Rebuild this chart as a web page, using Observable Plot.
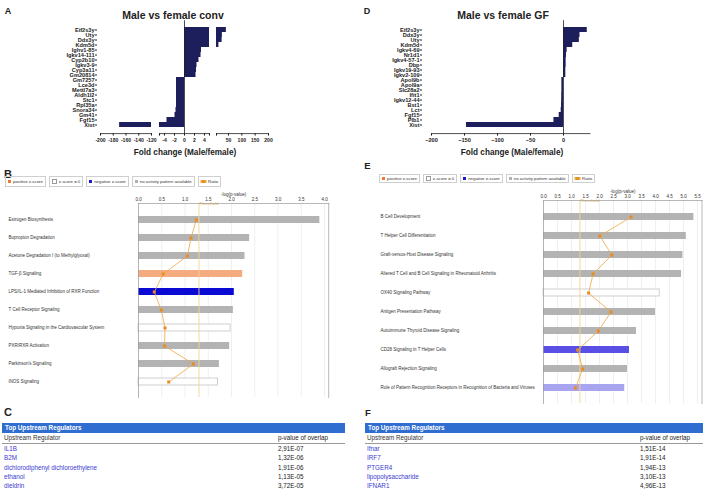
<!DOCTYPE html>
<html><head><meta charset="utf-8">
<script src="https://cdn.jsdelivr.net/npm/d3@7"></script>
<script src="https://cdn.jsdelivr.net/npm/@observablehq/plot@0.6"></script>
<style>
html,body{margin:0;padding:0;background:#fff;}
#root{position:relative;width:708px;height:492px;overflow:hidden;font-family:"Liberation Sans",Arial,sans-serif;color:#222;}
.lg{display:flex;gap:3px;position:absolute;}
.lg div{display:flex;align-items:center;border:0.8px solid #cfcfcf;padding:0 2px;font-size:4.3px;color:#333;white-space:nowrap;}
.sw{width:3px;height:3px;margin-right:2px;display:inline-block;}
.tbl{position:absolute;font-size:6.3px;}
.tbl .hd{background:#2f6dd0;color:#fff;font-weight:bold;height:10px;line-height:10px;padding-left:3px;}
.tbl .row{position:relative;height:9.3px;line-height:9.3px;}
.tbl .cap{height:10px;line-height:10px;border-bottom:0.8px solid #999;color:#333;position:relative;}
.tbl .v{position:absolute;top:0;color:#222;}
.tbl .n{color:#3b3bd0;padding-left:2px;}
</style></head><body><div id="root"></div>
<script>
// ---------- Data ----------
const convGenes = ["Eif2s3y","Uty","Ddx3y","Kdm5d","Ighv1-85","Igkv14-111","Cyp2b10","Igkv3-9","Cyp3a11","Gm20814","Gm7257","Lce3d","Mettl7a3","Aldh1l2","Stc1","Rpl35a","Snora34","Gm41","Fgf15","Xist"];
const convFC = [42,27,26,14,3.4,3.3,2.9,2.5,2.4,2.3,-1.6,-1.6,-1.6,-1.6,-1.6,-1.6,-1.7,-1.9,-3.5,-170];
const gfGenes = ["Eif2s3y","Ddx3y","Uty","Kdm5d","Igkv4-69","Nr1d1","Igkv4-57-1","Dbp","Igkv19-93","Igkv2-109","Apol9b","Apol9a","Slc28a2","Ifit1","Igkv12-44","Bst1","Lct","Fgf15","Plb1","Xist"];
const gfFC = [36,25,24,14,5.5,4.5,4,4,3.5,3.5,-2.5,-2.5,-2.5,-2.7,-2.8,-3,-3.5,-6.5,-14.5,-147];
const convTicksLeft = [-200,-180,-160,-140,-120];
const convTicksMid = [-5,-4,-2,0,2,4,5];
const convTicksRight = [5,50,100,150,200];
const gfTicks = [-200,-150,-100,-50,0];

const bPathways = ["Estrogen Biosynthesis","Bupropion Degradation","Acetone Degradation I (to Methylglyoxal)","TGF-β Signaling","LPS/IL-1 Mediated Inhibition of RXR Function","T Cell Receptor Signaling","Hypoxia Signaling in the Cardiovascular System","PXR/RXR Activation","Parkinson's Signaling","iNOS Signaling"];
const bLogP = [3.9,2.39,2.29,2.24,2.06,2.04,1.98,1.96,1.74,1.71];
const bZ = ["none","none","none","positive","negative","none","zero","none","none","zero"];
const bRatio = [1.24,1.13,1.05,0.53,0.34,0.49,0.57,0.56,1.18,0.65];
const bTicks = [0,0.5,1,1.5,2,2.5,3,3.5,4];

const ePathways = ["B Cell Development","T Helper Cell Differentiation","Graft-versus-Host Disease Signaling","Altered T Cell and B Cell Signaling in Rheumatoid Arthritis","OX40 Signaling Pathway","Antigen Presentation Pathway","Autoimmune Thyroid Disease Signaling","CD28 Signaling in T Helper Cells","Allograft Rejection Signaling","Role of Pattern Recognition Receptors in Recognition of Bacteria and Viruses"];
const eLogP = [5.37,5.1,4.98,4.93,4.15,4.0,3.32,3.07,3.0,2.9];
const eZ = ["none","none","none","none","zero","none","none","negative2","none","negative3"];
const eRatio = [3.13,2.01,2.44,1.77,1.61,2.41,1.96,1.22,1.40,1.14];
const eTicks = [0,0.5,1,1.5,2,2.5,3,3.5,4,4.5,5,5.5];

const threshold = 1.3;
const legendItems = ["positive z-score","z-score = 0","negative z-score","no activity pattern available","Ratio"];

const cRegulators = ["IL1B","B2M","dichlorodiphenyl dichloroethylene","ethanol","dieldrin"];
const cPvalues = ["2,91E-07","1,32E-06","1,91E-06","1,13E-05","3,72E-05"];
const fRegulators = ["Ifnar","IRF7","PTGER4","lipopolysaccharide","IFNAR1"];
const fPvalues = ["1,51E-14","1,91E-14","1,94E-13","3,10E-13","4,96E-13"];

// ---------- helpers ----------
const root = document.getElementById("root");
const FONT = "'Liberation Sans', Arial, sans-serif";
function add(el, left, top) {
  const d = document.createElement("div");
  d.style.cssText = `position:absolute;left:${left}px;top:${top}px;`;
  d.appendChild(el); root.appendChild(d); return d;
}
function txt(t, x, y, css, anchor = "center") {
  const d = document.createElement("div");
  d.textContent = t;
  const tx = anchor === "center" ? "-50%" : "0";
  d.style.cssText = `position:absolute;left:${x}px;top:${y}px;white-space:nowrap;line-height:1;transform:translate(${tx},-50%);` + css;
  root.appendChild(d); return d;
}
const navy = "#1c1f5c";
const baseStyle = {background: "transparent", overflow: "visible", fontFamily: FONT};

// ---------- Panel A ----------
const convData = convGenes.map((g, i) => ({gene: g, fc: convFC[i]}));
function convSegment({domain, ticks, hideEnds, width, marginLeft, marginRight, showY, zero}) {
  return Plot.plot({
    width, height: 148, marginTop: 20.2, marginBottom: 14.9, marginLeft, marginRight,
    style: baseStyle,
    x: {domain, clamp: true, label: null},
    y: {domain: convGenes, padding: 0.1, label: null},
    marks: [
      Plot.barX(convData, {y: "gene", x1: 0, x2: "fc", fill: navy}),
      zero ? Plot.ruleX([0], {stroke: "#222", strokeWidth: 0.8}) : null,
      Plot.frame({anchor: "bottom", stroke: "#222", strokeWidth: 0.8}),
      Plot.axisX({ticks, tickFormat: d => (hideEnds && hideEnds.includes(d)) ? "" : d, tickSize: 2.5, tickPadding: 2, fontSize: 5.1, fontWeight: "bold", label: null}),
      showY ? Plot.axisY({tickSize: 2, tickPadding: 1, dx: -3, fontSize: 5.6, fontWeight: "bold", label: null}) : Plot.axisY({ticks: [], label: null})
    ]
  });
}
add(convSegment({domain: [-200, -120], ticks: convTicksLeft, width: 153, marginLeft: 100, marginRight: 2, showY: true}), 0, 0);
add(convSegment({domain: [-5, 5], ticks: convTicksMid, hideEnds: [-5, 5], width: 64, marginLeft: 9, marginRight: 5, zero: true}), 150, 0);
add(convSegment({domain: [5, 200], ticks: convTicksRight, hideEnds: [5], width: 66, marginLeft: 10, marginRight: 4}), 206, 0);
txt("A", 8, 10.5, "font-size:9px;font-weight:bold;");
txt("Male vs female conv", 173, 15, "font-size:10.5px;font-weight:bold;");
txt("Fold change (Male/female)", 185, 153, "font-size:8.2px;font-weight:bold;");

// ---------- Panel D ----------
const gfData = gfGenes.map((g, i) => ({gene: g, fc: gfFC[i]}));
add(Plot.plot({
  width: 246, height: 148, marginTop: 20.2, marginBottom: 14.9, marginLeft: 81, marginRight: 6.6,
  style: baseStyle,
  x: {domain: [-200, 40], label: null},
  y: {domain: gfGenes, padding: 0.1, label: null},
  marks: [
    Plot.barX(gfData, {y: "gene", x1: 0, x2: "fc", fill: navy}),
    Plot.ruleX([0], {stroke: "#222", strokeWidth: 0.8}),
    Plot.frame({anchor: "bottom", stroke: "#222", strokeWidth: 0.8}),
    Plot.axisX({ticks: gfTicks, tickSize: 2.5, tickPadding: 2, fontSize: 5.6, fontWeight: "bold", label: null}),
    Plot.axisY({tickSize: 2, tickPadding: 1, dx: -9, fontSize: 5.6, fontWeight: "bold", label: null})
  ]
}), 350, 0);
txt("D", 367, 10.5, "font-size:9px;font-weight:bold;");
txt("Male vs female GF", 503, 15, "font-size:10.5px;font-weight:bold;");
txt("Fold change (Male/female)", 512, 153, "font-size:8.2px;font-weight:bold;");

// ---------- Panels B & E (IPA canonical pathways) ----------
const zCats = ["positive","zero","negative","none","negative2","negative3"];
const zColors = ["#f4ab80","#ffffff","#0a0ad4","#b3b3b3","#5a4fe4","#a9a4f0"];
const legendSw = ["#f07a2e","#ffffff","#1a1acc","#b0b0b0","#e8911f"];

function ipaPlot({paths, logp, z, ratio, ticks, domain, width, height, marginLeft, marginRight, paddingInner, paddingOuter, labelDx}) {
  const data = paths.map((p, i) => ({path: p, logp: logp[i], z: z[i], ratio: ratio[i]}));
  return Plot.plot({
    width, height, marginTop: 18, marginBottom: 0, marginLeft, marginRight,
    style: baseStyle,
    x: {domain},
    y: {domain: paths, paddingInner, paddingOuter, axis: null},
    color: {domain: zCats, range: zColors},
    marks: [
      Plot.gridX({ticks, stroke: "#e4e4e4", strokeOpacity: 1, strokeWidth: 0.6}),
      Plot.barX(data, {y: "path", x: "logp", fill: "z"}),
      Plot.barX(data.filter(d => d.z === "zero"), {y: "path", x: "logp", fill: "none", stroke: "#c4c4c4", strokeWidth: 0.8}),
      Plot.ruleX([threshold], {stroke: "#f3d58e", strokeWidth: 0.9}),
      Plot.text(["Threshold"], {x: () => threshold, text: d => d, frameAnchor: "top", textAnchor: "start", dy: -1.3, fontSize: 4.4, fill: "#e2ad45"}),
      Plot.line(data, {x: "ratio", y: "path", stroke: "#f0a640", strokeWidth: 0.8}),
      Plot.dot(data, {x: "ratio", y: "path", symbol: "square", r: 1.7, fill: "#ea8b20", stroke: "none"}),
      Plot.text(data, {y: "path", text: "path", frameAnchor: "left", textAnchor: "start", dx: labelDx, fontSize: 4.5, fill: "#333"}),
      Plot.frame({anchor: "left", stroke: "#999", strokeWidth: 0.7}),
      Plot.frame({anchor: "right", stroke: "#999", strokeWidth: 0.7}),
      Plot.frame({anchor: "top", stroke: "#999", strokeWidth: 0.7}),
      Plot.axisX({anchor: "top", ticks, tickFormat: d3.format(".1f"), tickSize: 0, tickPadding: 2.5, fontSize: 4.5, fill: "#333",
        label: "-log(p-value)", labelAnchor: "center", labelArrow: "none", labelOffset: 11})
    ]
  });
}
function legend(left, top, h) {
  const lg = document.createElement("div");
  lg.className = "lg";
  lg.style.left = left + "px"; lg.style.top = top + "px";
  legendItems.forEach((t, i) => {
    const it = document.createElement("div");
    it.style.height = h + "px";
    const sw = document.createElement("span");
    sw.className = "sw";
    sw.style.background = legendSw[i];
    if (i === 1) sw.style.border = "0.5px solid #999";
    if (i === 4) { sw.style.boxShadow = "-1.5px 0 0 0 #f0a640, 1.5px 0 0 0 #f0a640"; sw.style.marginLeft = "1.5px"; sw.style.marginRight = "3px"; }
    it.appendChild(sw);
    it.appendChild(document.createTextNode(t));
    lg.appendChild(it);
  });
  root.appendChild(lg);
}

txt("B", 8, 174, "font-size:11px;font-weight:bold;");
legend(5, 176, 8.5);
add(ipaPlot({paths: bPathways, logp: bLogP, z: bZ, ratio: bRatio, ticks: bTicks, domain: [0, 4.09],
  width: 340, height: 212, marginLeft: 138, marginRight: 11.8, paddingInner: 0.63, paddingOuter: 0.45, labelDx: -130}), 0, 185);

txt("E", 367.5, 166, "font-size:9.5px;font-weight:bold;");
legend(379, 173.5, 7);
add(ipaPlot({paths: ePathways, logp: eLogP, z: eZ, ratio: eRatio, ticks: eTicks, domain: [0, 5.66],
  width: 358, height: 221, marginLeft: 193, marginRight: 6.5, paddingInner: 0.645, paddingOuter: 0.467, labelDx: -163}), 350, 182);

// ---------- Tables C & F ----------
function table(left, width, valLeft, names, vals) {
  const t = document.createElement("div");
  t.className = "tbl";
  t.style.left = left + "px"; t.style.top = "423px"; t.style.width = width + "px";
  const hd = document.createElement("div"); hd.className = "hd"; hd.textContent = "Top Upstream Regulators"; t.appendChild(hd);
  const cap = document.createElement("div"); cap.className = "cap";
  cap.innerHTML = `<span style="padding-left:2px">Upstream Regulator</span><span class="v" style="left:${valLeft}px">p-value of overlap</span>`;
  t.appendChild(cap);
  names.forEach((n, i) => {
    const r = document.createElement("div"); r.className = "row";
    r.innerHTML = `<span class="n">${n}</span><span class="v" style="left:${valLeft}px">${vals[i]}</span>`;
    t.appendChild(r);
  });
  root.appendChild(t);
}
txt("C", 8, 412, "font-size:11px;font-weight:bold;");
table(2, 343, 276, cRegulators, cPvalues);
txt("F", 368, 413, "font-size:9.5px;font-weight:bold;");
table(365, 338, 275, fRegulators, fPvalues);
</script></body></html>
